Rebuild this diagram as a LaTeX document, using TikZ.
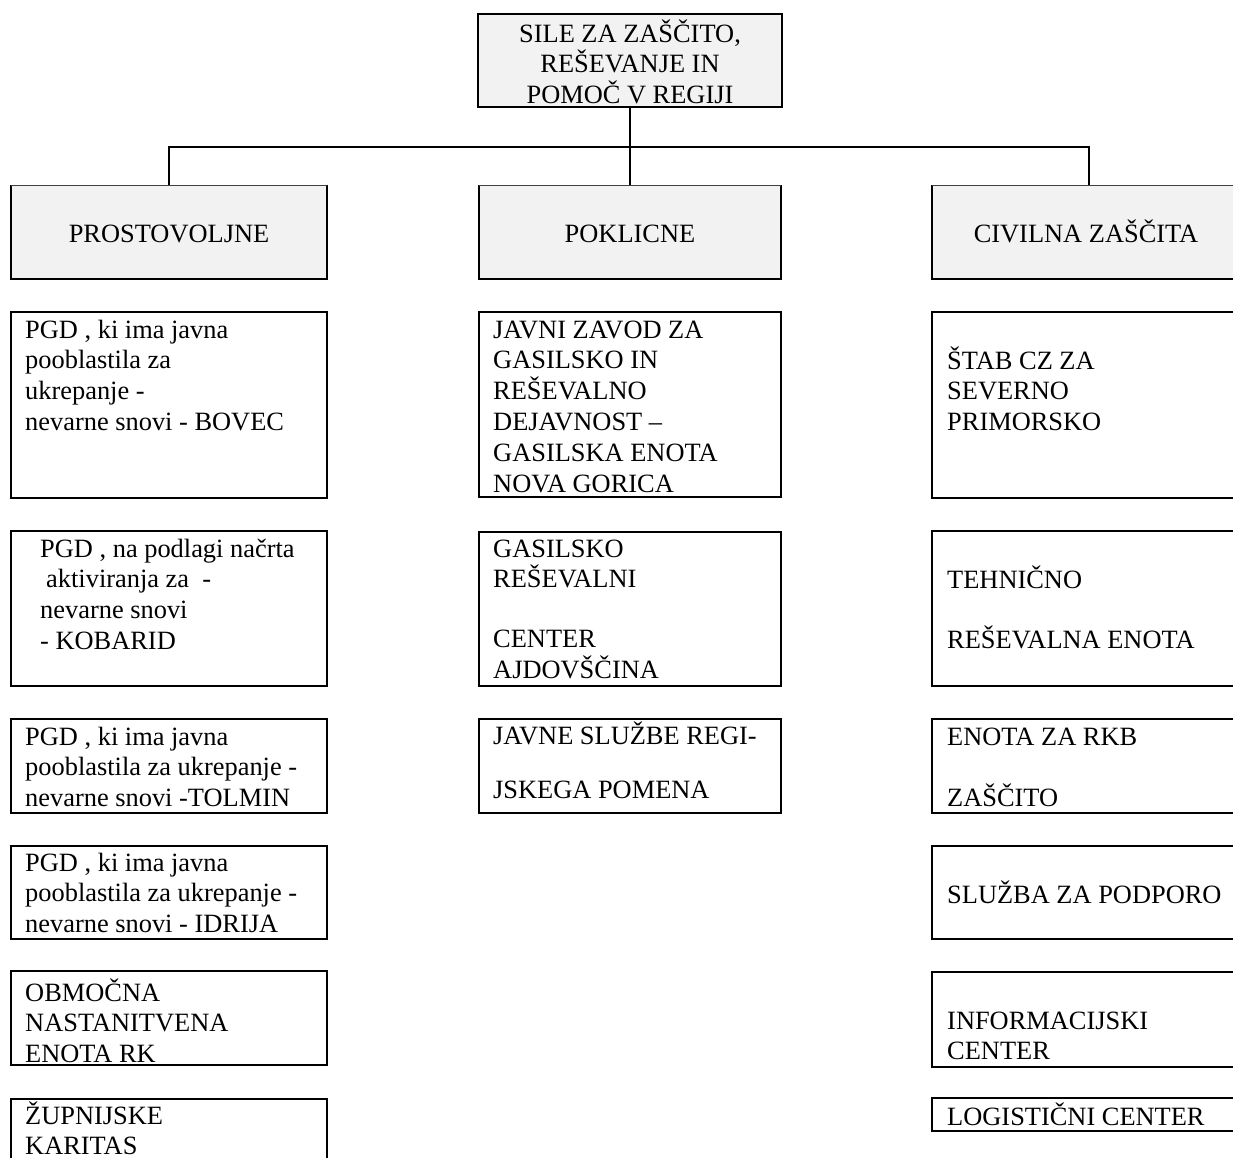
\documentclass[tikz,border=0pt]{standalone}
\usepackage{fontspec}
\setmainfont{Liberation Serif}
\definecolor{hdrfill}{HTML}{F2F2F2}
% multi-line, left-aligned cell text whose baseline is the first line
\newcommand{\celltext}[1]{\parbox[t]{320pt}{\raggedright #1}}

\begin{document}
\begin{tikzpicture}[x=1pt,y=-1pt,
  font=\fontsize{26.4pt}{30.8pt}\selectfont,
  unitbox/.style={draw=black, line width=2pt, fill=white, anchor=north west,
                  inner sep=0pt, outer sep=0pt},
  headbox/.style={fill=hdrfill, draw=none, anchor=north west, inner sep=0pt,
                  outer sep=0pt, minimum height=94pt},
  rootbox/.style={draw=black, line width=2pt, fill=hdrfill, anchor=north west,
                  inner sep=0pt, outer sep=0pt},
  celllabel/.style={anchor=base west, inner sep=0pt},
  headlabel/.style={anchor=base, inner sep=0pt},
  link/.style={line width=2pt},
  sideedge/.style={line width=2pt},
  topedge/.style={line width=0.8pt, draw=black!75}]

\useasboundingbox (0,0) rectangle (1233,1157);
\clip (0,0) rectangle (1233,1157);
\fill[white] (0,0) rectangle (1233,1157);

% root
\node[rootbox, minimum width=304pt, minimum height=93pt] (root) at (478,14) {};
\node[headlabel] (roottxt) at (630,42)
  {\parbox[t]{300pt}{\centering\baselineskip=30.5pt SILE ZA ZAŠČITO,\\REŠEVANJE IN\\POMOČ V REGIJI}};

% branch headers
\node[headbox, minimum width=316pt] (vol) at (11,185) {};
\node[headbox, minimum width=302pt] (pro) at (479,185) {};
\node[headbox, minimum width=314pt] (civ) at (932,185) {};
\foreach \n in {vol,pro,civ}{
  \draw[sideedge] (\n.north west) -- (\n.south west) -- (\n.south east) -- (\n.north east);
  \draw[topedge] (\n.north west) -- (\n.north east);
}
\node[headlabel] (voltxt) at (169,242) {PROSTOVOLJNE};
\node[headlabel] (protxt) at (630,242) {POKLICNE};
\node[headlabel] (civtxt) at (1086,242) {CIVILNA ZAŠČITA};

% connectors
\coordinate (bus) at (630,147);
\draw[link] (root.south) -- (pro.north);
\draw[link] (vol.north) |- (bus) -| (civ.north);

% volunteer units
\node[unitbox, minimum width=316pt, minimum height=186pt] (v1) at (11,312) {};
\node[unitbox, minimum width=316pt, minimum height=155pt] (v2) at (11,531) {};
\node[unitbox, minimum width=316pt, minimum height=94pt]  (v3) at (11,719) {};
\node[unitbox, minimum width=316pt, minimum height=93pt]  (v4) at (11,846) {};
\node[unitbox, minimum width=316pt, minimum height=94pt]  (v5) at (11,971) {};
\node[unitbox, minimum width=316pt, minimum height=100pt] (v6) at (11,1099) {};

\node[celllabel] (v1t) at (25,338) {\celltext{PGD , ki ima javna\\pooblastila za\\ukrepanje -\\nevarne snovi - BOVEC}};
\node[celllabel] (v2t) at (40,557) {\celltext{PGD , na podlagi načrta\\\hspace*{6pt}aktiviranja za\ \ -\\nevarne snovi\\- KOBARID}};
\node[celllabel] (v3t) at (25,745) {\celltext{PGD , ki ima javna\\pooblastila za ukrepanje -\\nevarne snovi -TOLMIN}};
\node[celllabel] (v4t) at (25,871) {\celltext{PGD , ki ima javna\\pooblastila za ukrepanje -\\nevarne snovi - IDRIJA}};
\node[celllabel] (v5t) at (25,1001) {\celltext{OBMOČNA\\NASTANITVENA\\ENOTA RK}};
\node[celllabel] (v6t) at (25,1124) {\celltext{ŽUPNIJSKE\\KARITAS}};

% professional units
\node[unitbox, minimum width=302pt, minimum height=185pt] (m1) at (479,312) {};
\node[unitbox, minimum width=302pt, minimum height=154pt] (m2) at (479,532) {};
\node[unitbox, minimum width=302pt, minimum height=94pt]  (m3) at (479,719) {};

\node[celllabel] (m1t) at (493,338) {\celltext{JAVNI ZAVOD ZA\\GASILSKO IN\\REŠEVALNO\\DEJAVNOST –\\GASILSKA ENOTA\\NOVA GORICA}};
\node[celllabel] (m2t) at (493,557) {\celltext{GASILSKO\\REŠEVALNI\\[29pt]CENTER\\AJDOVŠČINA}};
\node[celllabel] (m3t) at (493,744) {\celltext{JAVNE SLUŽBE REGI-\\[24pt]JSKEGA POMENA}};

% civil protection units
\node[unitbox, minimum width=314pt, minimum height=186pt] (c1) at (932,312) {};
\node[unitbox, minimum width=314pt, minimum height=155pt] (c2) at (932,531) {};
\node[unitbox, minimum width=314pt, minimum height=94pt]  (c3) at (932,719) {};
\node[unitbox, minimum width=314pt, minimum height=93pt]  (c4) at (932,846) {};
\node[unitbox, minimum width=314pt, minimum height=95pt]  (c5) at (932,972) {};
\node[unitbox, minimum width=314pt, minimum height=33pt]  (c6) at (932,1098) {};

\node[celllabel] (c1t) at (947,369) {\celltext{ŠTAB CZ ZA\\SEVERNO\\PRIMORSKO}};
\node[celllabel] (c2t) at (947,588) {\celltext{TEHNIČNO\\[30pt]REŠEVALNA ENOTA}};
\node[celllabel] (c3t) at (947,745) {\celltext{ENOTA ZA RKB\\[31pt]ZAŠČITO}};
\node[celllabel] (c4t) at (947,903) {\celltext{SLUŽBA ZA PODPORO}};
\node[celllabel] (c5t) at (947,1029) {\celltext{INFORMACIJSKI\\CENTER}};
\node[celllabel] (c6t) at (947,1125) {\celltext{LOGISTIČNI CENTER}};
\end{tikzpicture}
\end{document}
